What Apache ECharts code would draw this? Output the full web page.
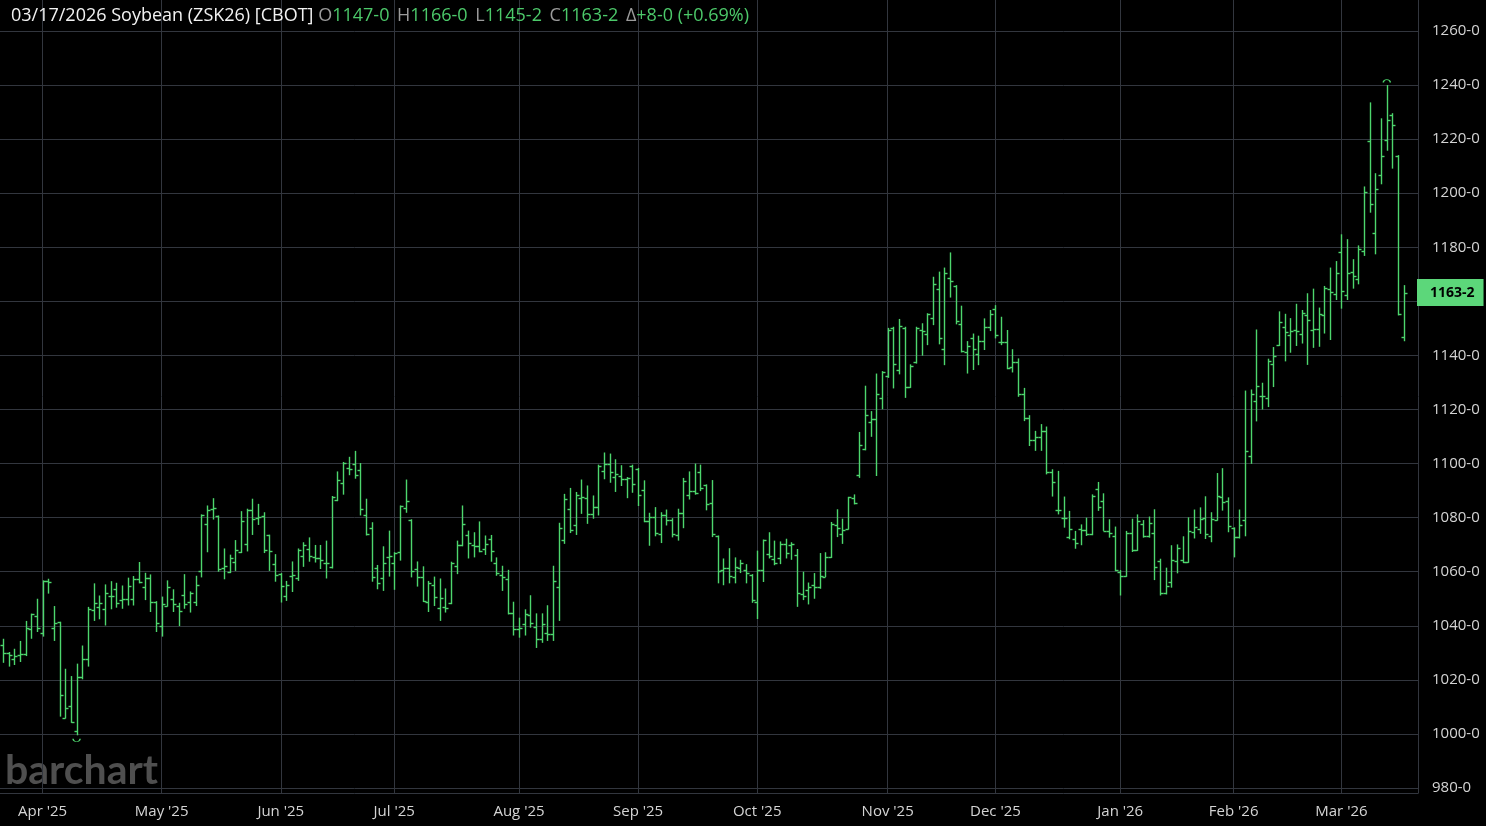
<!DOCTYPE html>
<html><head><meta charset="utf-8">
<script src="https://cdn.jsdelivr.net/npm/echarts@6/dist/echarts.min.js"></script>
<style>html,body{margin:0;padding:0;background:#000;}#c{width:1486px;height:826px;}</style>
</head><body><div id="c"></div>
<script>
// ---- data ----
const symbolName = '03/17/2026 Soybean (ZSK26) [CBOT]';
const firstDay = '2025-03-21';
const holidays = ['2025-04-18','2025-05-26','2025-06-19','2025-07-04','2025-09-01','2025-11-27','2025-12-25','2026-01-01','2026-01-19','2026-02-16'];
const padDays = 2;
const monthNames = ['Jan','Feb','Mar','Apr','May','Jun','Jul','Aug','Sep','Oct','Nov','Dec'];
const yMin = 980, yMax = 1260, yStep = 20;

const opens = [
1033.0,1029.8,1027.8,1029.1,1029.7,1038.9,1043.8,1037.2,1056.6,1039.3,
1041.4,1006.0,1010.3,1001.1,1021.2,1027.6,1045.7,1047.1,1046.3,1051.2,
1053.7,1049.5,1050.0,1049.8,1057.2,1054.5,1057.8,1048.8,1040.1,1047.3,
1050.0,1047.3,1051.4,1048.8,1048.9,1060.3,1077.7,1083.3,1080.5,1061.3,
1060.0,1063.7,1067.2,1070.3,1082.7,1079.8,1080.5,1073.4,1062.9,1059.1,
1051.1,1058.5,1057.5,1065.7,1068.4,1065.3,1064.9,1063.4,1061.6,1086.7,
1092.8,1098.4,1100.0,1097.5,1081.0,1076.1,1061.2,1057.5,1065.3,1063.4,
1067.4,1083.5,1079.2,1061.0,1058.2,1048.8,1055.0,1046.7,1047.1,1048.6,
1062.2,1069.9,1073.6,1069.9,1069.4,1068.4,1072.1,1063.2,1058.7,1057.2,
1044.6,1038.9,1040.5,1043.9,1039.7,1035.2,1037.2,1036.8,1054.5,1071.9,
1083.3,1077.1,1087.2,1087.2,1081.4,1083.9,1097.1,1100.0,1095.0,1095.4,
1094.4,1099.1,1097.9,1090.1,1078.6,1080.2,1074.0,1081.0,1079.3,1073.4,
1081.8,1088.2,1089.7,1097.0,1092.1,1085.6,1073.2,1060.7,1061.2,1058.2,
1061.2,1060.7,1058.7,1048.7,1060.7,1066.5,1064.7,1064.9,1070.3,1069.9,
1066.2,1051.6,1053.2,1055.0,1054.5,1058.2,1065.3,1077.1,1074.0,1075.9,
1087.1,1095.7,1105.3,1115.2,1116.4,1124.3,1132.5,1150.2,1134.6,1150.2,
1128.4,1137.4,1149.4,1148.1,1154.0,1164.6,1142.3,1168.5,1165.8,1151.5,
1141.4,1146.3,1140.7,1145.3,1150.6,1157.2,1145.1,1144.8,1135.8,1137.4,
1125.6,1116.7,1108.8,1110.0,1112.1,1096.7,1083.0,1080.0,1073.0,1072.2,
1075.7,1075.4,1073.8,1090.5,1086.2,1075.1,1073.2,1059.9,1058.4,1074.2,
1068.0,1077.5,1073.2,1074.2,1064.0,1052.0,1056.2,1064.0,1064.4,1063.5,
1074.6,1075.8,1079.8,1073.1,1079.3,1087.5,1086.3,1076.0,1072.7,1079.3,
1102.7,1123.0,1124.9,1124.2,1136.9,1144.0,1150.5,1147.7,1149.3,1147.8,
1154.8,1149.4,1149.9,1154.8,1164.4,1162.6,1178.3,1162.2,1170.9,1168.1,
1178.6,1219.4,1185.2,1206.7,1219.8,1228.9,1213.6,1147.0];
const highs = [
1035.2,1030.3,1031.5,1034.4,1041.8,1044.5,1050.0,1056.8,1057.4,1047.3,
1041.5,1024.1,1021.4,1026.0,1032.7,1047.0,1055.7,1051.2,1055.3,1056.5,
1055.9,1054.9,1057.8,1058.4,1063.6,1059.6,1059.0,1049.1,1050.8,1056.8,
1053.5,1048.5,1059.1,1052.7,1058.5,1081.2,1084.5,1087.2,1080.8,1068.6,
1066.3,1071.7,1082.4,1083.3,1087.0,1085.1,1082.0,1073.7,1066.5,1059.5,
1056.6,1063.8,1068.6,1070.9,1072.7,1069.9,1069.9,1071.5,1088.0,1097.1,
1100.6,1102.5,1104.7,1100.2,1087.0,1078.3,1062.5,1069.4,1075.2,1067.2,
1084.5,1094.1,1079.4,1063.8,1062.0,1056.6,1058.2,1057.5,1053.8,1063.7,
1071.5,1084.5,1075.2,1074.6,1078.6,1073.4,1073.6,1065.3,1062.2,1060.7,
1048.9,1043.0,1046.1,1051.3,1044.6,1044.6,1047.6,1062.2,1078.1,1088.8,
1091.0,1089.5,1094.1,1091.9,1088.2,1099.6,1104.1,1103.7,1101.6,1099.4,
1095.0,1099.6,1098.4,1093.8,1081.8,1083.9,1082.0,1083.0,1079.8,1083.3,
1094.7,1097.1,1100.0,1099.6,1092.3,1093.9,1073.4,1064.9,1068.7,1065.3,
1064.4,1062.8,1059.1,1067.8,1071.9,1074.6,1071.5,1071.2,1072.2,1070.9,
1068.4,1060.0,1056.0,1059.5,1066.9,1067.2,1078.4,1083.1,1079.6,1087.7,
1088.6,1111.7,1128.8,1119.4,1133.3,1134.2,1150.2,1150.6,1153.5,1150.6,
1136.7,1150.6,1151.9,1155.6,1169.1,1171.0,1172.5,1178.1,1166.0,1158.4,
1145.3,1148.1,1147.3,1153.7,1156.8,1158.6,1154.3,1149.4,1142.3,1138.9,
1128.0,1117.9,1112.1,1114.6,1113.7,1097.9,1097.3,1087.8,1082.5,1075.1,
1077.5,1080.0,1088.6,1093.2,1089.0,1079.4,1076.7,1060.6,1075.1,1079.6,
1081.2,1079.1,1080.4,1083.1,1064.8,1061.5,1069.8,1070.1,1073.1,1080.1,
1083.0,1083.8,1087.9,1082.0,1096.5,1098.3,1087.5,1076.4,1083.0,1127.0,
1127.4,1149.6,1129.9,1138.8,1143.1,1156.3,1155.4,1153.8,1159.1,1156.8,
1163.0,1164.7,1157.7,1165.7,1172.5,1174.9,1184.8,1183.0,1175.6,1180.7,
1202.5,1233.6,1207.4,1227.7,1240.0,1229.6,1214.1,1166.0];
const lows = [
1026.3,1024.9,1025.5,1026.6,1028.8,1035.2,1037.7,1036.0,1051.9,1034.4,
1006.4,1005.7,1004.1,999.5,1020.2,1024.9,1041.8,1042.4,1040.1,1046.1,
1046.7,1046.3,1047.5,1047.5,1055.7,1049.5,1045.1,1037.7,1036.0,1047.1,
1045.1,1039.9,1046.3,1044.9,1047.3,1057.9,1067.2,1079.3,1060.0,1057.2,
1059.5,1060.3,1066.9,1067.5,1073.6,1077.3,1066.9,1060.3,1056.3,1048.6,
1049.2,1052.5,1056.6,1061.8,1063.7,1063.4,1061.0,1057.5,1061.2,1086.1,
1088.5,1095.7,1094.4,1080.8,1073.4,1056.3,1053.5,1052.9,1058.2,1053.3,
1064.1,1081.8,1057.9,1054.5,1048.8,1045.1,1047.3,1041.8,1044.9,1048.0,
1059.1,1069.4,1064.9,1065.3,1067.2,1066.2,1063.7,1058.5,1052.9,1044.2,
1036.4,1035.6,1036.4,1039.3,1031.8,1033.7,1034.4,1034.4,1041.8,1070.3,
1074.3,1073.6,1081.4,1077.7,1079.6,1080.8,1094.2,1092.9,1089.5,1091.7,
1087.2,1089.2,1084.3,1078.3,1069.6,1073.1,1070.6,1077.1,1072.7,1071.5,
1076.1,1086.7,1088.5,1089.8,1082.7,1072.8,1055.7,1055.0,1055.7,1055.7,
1059.5,1055.7,1048.5,1042.5,1056.2,1064.9,1062.4,1062.8,1064.9,1064.4,
1047.0,1049.5,1047.9,1050.0,1053.7,1058.0,1065.1,1072.8,1070.3,1075.6,
1084.9,1094.7,1104.9,1109.9,1095.4,1120.1,1131.7,1127.8,1133.0,1124.3,
1128.0,1137.0,1139.9,1143.8,1151.2,1144.1,1136.4,1161.4,1151.5,1141.1,
1133.3,1134.6,1136.4,1142.0,1149.0,1146.3,1143.8,1134.9,1133.7,1124.7,
1115.7,1106.5,1104.7,1104.7,1096.0,1087.8,1081.2,1076.3,1072.0,1068.5,
1069.8,1073.2,1073.5,1082.5,1075.1,1072.6,1060.2,1051.2,1058.1,1067.3,
1067.7,1072.6,1072.6,1056.9,1051.2,1051.6,1054.1,1059.4,1063.2,1063.3,
1072.3,1074.0,1072.1,1070.9,1078.9,1082.6,1074.6,1065.3,1072.3,1073.1,
1099.9,1115.6,1120.0,1120.9,1128.3,1143.5,1137.8,1141.0,1143.5,1144.4,
1136.5,1142.8,1143.2,1148.1,1145.7,1160.5,1157.3,1160.5,1164.7,1166.3,
1176.8,1192.8,1177.4,1203.3,1215.7,1209.1,1154.8,1145.25];
const closes = [
1030.0,1029.1,1028.8,1029.4,1039.3,1044.2,1039.3,1056.5,1056.2,1041.1,
1014.4,1009.7,1004.5,1021.0,1027.6,1046.3,1048.5,1048.5,1052.0,1051.0,
1048.5,1049.8,1054.7,1057.2,1056.2,1057.8,1048.8,1041.1,1047.9,1054.5,
1047.9,1045.5,1048.2,1052.0,1055.1,1080.8,1082.9,1083.5,1061.0,1062.0,
1064.9,1068.0,1078.9,1082.7,1079.6,1080.4,1068.0,1067.8,1058.7,1054.8,
1055.0,1058.7,1068.0,1069.9,1065.7,1065.1,1064.4,1063.4,1087.6,1093.8,
1100.2,1098.1,1095.9,1083.3,1074.0,1057.9,1055.8,1063.1,1065.9,1066.9,
1084.3,1086.1,1060.3,1058.2,1049.2,1055.8,1050.8,1050.1,1046.7,1063.2,
1069.9,1077.7,1070.6,1069.4,1067.8,1070.3,1067.8,1059.7,1058.2,1044.6,
1038.7,1039.3,1044.2,1040.9,1035.2,1040.5,1036.8,1056.6,1076.1,1087.0,
1075.6,1088.5,1087.6,1081.4,1083.9,1099.1,1100.0,1096.7,1096.3,1094.4,
1094.6,1092.6,1088.5,1078.9,1080.2,1074.3,1081.0,1079.3,1074.0,1081.8,
1093.4,1089.7,1089.2,1090.9,1085.2,1074.0,1060.3,1061.2,1058.5,1061.6,
1063.4,1059.7,1049.5,1060.7,1071.9,1065.7,1063.2,1070.3,1066.9,1070.3,
1052.2,1051.2,1054.5,1054.5,1058.5,1065.3,1077.8,1076.1,1075.6,1087.7,
1085.6,1106.8,1117.9,1116.4,1125.6,1134.0,1149.4,1137.0,1151.0,1128.4,
1136.2,1150.0,1149.0,1155.2,1166.3,1146.5,1170.4,1167.5,1152.7,1141.6,
1143.6,1142.3,1145.3,1150.6,1155.2,1147.5,1144.8,1135.2,1137.4,1125.6,
1116.9,1108.8,1110.0,1112.1,1096.9,1093.2,1082.8,1080.0,1075.7,1070.5,
1075.4,1073.8,1088.0,1084.1,1075.1,1074.4,1060.6,1058.4,1074.4,1068.0,
1078.8,1073.2,1078.1,1061.9,1052.0,1054.9,1064.3,1068.9,1063.5,1075.2,
1076.4,1079.5,1074.0,1079.5,1087.9,1085.9,1077.0,1072.7,1077.3,1104.8,
1125.8,1128.6,1124.9,1138.1,1139.8,1152.3,1148.6,1148.9,1148.9,1155.8,
1153.1,1149.6,1155.2,1165.1,1163.5,1170.6,1163.8,1170.4,1169.4,1179.3,
1200.5,1195.9,1201.7,1213.8,1227.2,1225.2,1155.25,1163.25];

// ---- helpers ----
function buildDays(start, n) {
  const out = []; const d = new Date(start + 'T00:00:00Z');
  while (out.length < n) {
    const wd = d.getUTCDay(); const s = d.toISOString().slice(0, 10);
    if (wd !== 0 && wd !== 6 && holidays.indexOf(s) < 0) out.push(s);
    d.setUTCDate(d.getUTCDate() + 1);
  }
  return out;
}
function fmt(v) {
  const neg = v < 0; v = Math.abs(v);
  let w = Math.floor(v + 1e-9); let e = Math.round((v - w) * 8);
  if (e === 8) { w++; e = 0; }
  return (neg ? '-' : '') + w + '-' + e;
}
const n = opens.length;
const dates = buildDays(firstDay, n + padDays);
const isMonthStart = i => i > 0 && dates[i].slice(0, 7) !== dates[i - 1].slice(0, 7);
const monthIdx = dates.map((d, i) => i).filter(isMonthStart);
const monthLabel = d => monthNames[+d.slice(5, 7) - 1] + " '" + d.slice(2, 4);
const ohlc = opens.map((o, i) => [i, o, highs[i], lows[i], closes[i]]);

const last = n - 1;
const chg = closes[last] - closes[last - 1];
const pct = chg / closes[last - 1] * 100;
let iMin = 0, iMax = 0;
lows.forEach((v, i) => { if (v < lows[iMin]) iMin = i; });
highs.forEach((v, i) => { if (v > highs[iMax]) iMax = i; });

const green = '#4dd66d';
const gridColor = '#32363e';
const labelColor = '#d4d4d4';
const font = '"Open Sans", "Noto Sans", sans-serif';

const chart = echarts.init(document.getElementById('c'), null, { renderer: 'canvas' });
chart.setOption({
  backgroundColor: '#000',
  animation: false,
  title: {
    left: 6, top: 2,
    text: '{w|' + symbolName + '} {g0|O}{v|' + fmt(opens[last]) + '} {g|H}{v|' + fmt(highs[last]) +
      '} {g|L}{v|' + fmt(lows[last]) + '} {g|C}{v|' + fmt(closes[last]) + '} {g|Δ}{v|' +
      (chg >= 0 ? '+' : '') + fmt(chg) + ' (' + (pct >= 0 ? '+' : '') + pct.toFixed(2) + '%)}',
    textStyle: {
      fontFamily: font, fontSize: 18, fontWeight: 'normal',
      rich: {
        w: { color: '#f2f2f2', fontSize: 18, fontFamily: font, fontWeight: 'normal' },
        g0: { color: '#9b9b9b', fontSize: 18, fontFamily: font, fontWeight: 'normal' },
        g: { color: '#9b9b9b', fontSize: 18, fontFamily: font, fontWeight: 'normal', padding: [0, 0, 0, 3] },
        v: { color: '#4cc96a', fontSize: 18, fontFamily: font, fontWeight: 'normal' }
      }
    }
  },
  graphic: [{
    type: 'text', left: 5, top: 750, z: 0, silent: true,
    style: { text: 'barchart', font: 'bold 41px Lato, sans-serif', fill: '#4f4f4f' }
  }],
  grid: [
    { left: 0, right: 68, top: 31, bottom: 38 },
    { left: 0, right: 68, top: 0, bottom: 33 }
  ],
  xAxis: [{
    type: 'category', gridIndex: 0, data: dates, boundaryGap: true,
    axisLine: { show: false }, axisTick: { show: false }, splitLine: { show: false },
    axisLabel: {
      interval: (i) => isMonthStart(i), formatter: v => monthLabel(v),
      color: labelColor, fontSize: 15, fontFamily: font, margin: 16
    }
  }, {
    type: 'category', gridIndex: 1, data: dates, boundaryGap: true,
    axisLine: { show: true, lineStyle: { color: gridColor, width: 1 } },
    axisTick: { show: false }, axisLabel: { show: false }, splitLine: { show: false }
  }],
  yAxis: [{
    type: 'value', gridIndex: 0, position: 'right', min: yMin, max: yMax, interval: yStep,
    axisLine: { show: false }, axisTick: { show: false },
    splitLine: { show: true, lineStyle: { color: gridColor, width: 1 } },
    axisLabel: { formatter: v => fmt(v), color: labelColor, fontSize: 15, fontFamily: font, margin: 14 }
  }, {
    type: 'value', gridIndex: 1, position: 'right', min: 0, max: 1,
    axisLine: { show: true, lineStyle: { color: gridColor, width: 1 } },
    axisTick: { show: false }, axisLabel: { show: false }, splitLine: { show: false }
  }],
  series: [{
    type: 'line', xAxisIndex: 1, yAxisIndex: 1, data: [], z: 0, silent: true,
    markLine: {
      silent: true, symbol: ['none', 'none'], label: { show: false },
      lineStyle: { color: gridColor, width: 1, type: 'solid' },
      data: monthIdx.map(i => ({ xAxis: dates[i] }))
    }
  }, {
    type: 'custom', xAxisIndex: 0, yAxisIndex: 0, z: 5,
    data: ohlc,
    encode: { x: 0, y: [1, 2, 3, 4] },
    renderItem: function (params, api) {
      const idx = api.value(0);
      const x = Math.round(api.coord([idx, 0])[0]) + 0.5;
      const yo = Math.round(api.coord([idx, api.value(1)])[1]) + 0.5;
      const yh = api.coord([idx, api.value(2)])[1];
      const yl = api.coord([idx, api.value(3)])[1];
      const yc = Math.round(api.coord([idx, api.value(4)])[1]) + 0.5;
      const st = { stroke: green, lineWidth: 1.4 };
      return {
        type: 'group', children: [
          { type: 'line', shape: { x1: x, y1: yh, x2: x, y2: yl }, style: st },
          { type: 'line', shape: { x1: x - 3, y1: yo, x2: x, y2: yo }, style: st },
          { type: 'line', shape: { x1: x, y1: yc, x2: x + 3, y2: yc }, style: st }
        ]
      };
    },
    markLine: {
      silent: true, symbol: ['none', 'none'], z: 20,
      lineStyle: { color: 'rgba(0,0,0,0)', width: 0 },
      label: {
        show: true, position: 'end', distance: -1, formatter: p => fmt(p.value),
        backgroundColor: '#5cd77a', color: '#000', fontWeight: 'bold', fontSize: 14,
        fontFamily: font, padding: [6, 9, 7, 13]
      },
      data: [{ yAxis: closes[last] }]
    },
    markPoint: {
      silent: true, label: { show: false },
      itemStyle: { color: 'rgba(0,0,0,0)', borderColor: green, borderWidth: 1 },
      data: [
        { coord: [iMin, lows[iMin]], symbol: 'path://M0,0 A4,4 0 0,0 8,0', symbolSize: [7, 3], symbolOffset: [0, 5] },
        { coord: [iMax, highs[iMax]], symbol: 'path://M0,4 A4,4 0 0,1 8,4', symbolSize: [7, 3], symbolOffset: [0, -4] }
      ]
    }
  }]
});
</script></body></html>
